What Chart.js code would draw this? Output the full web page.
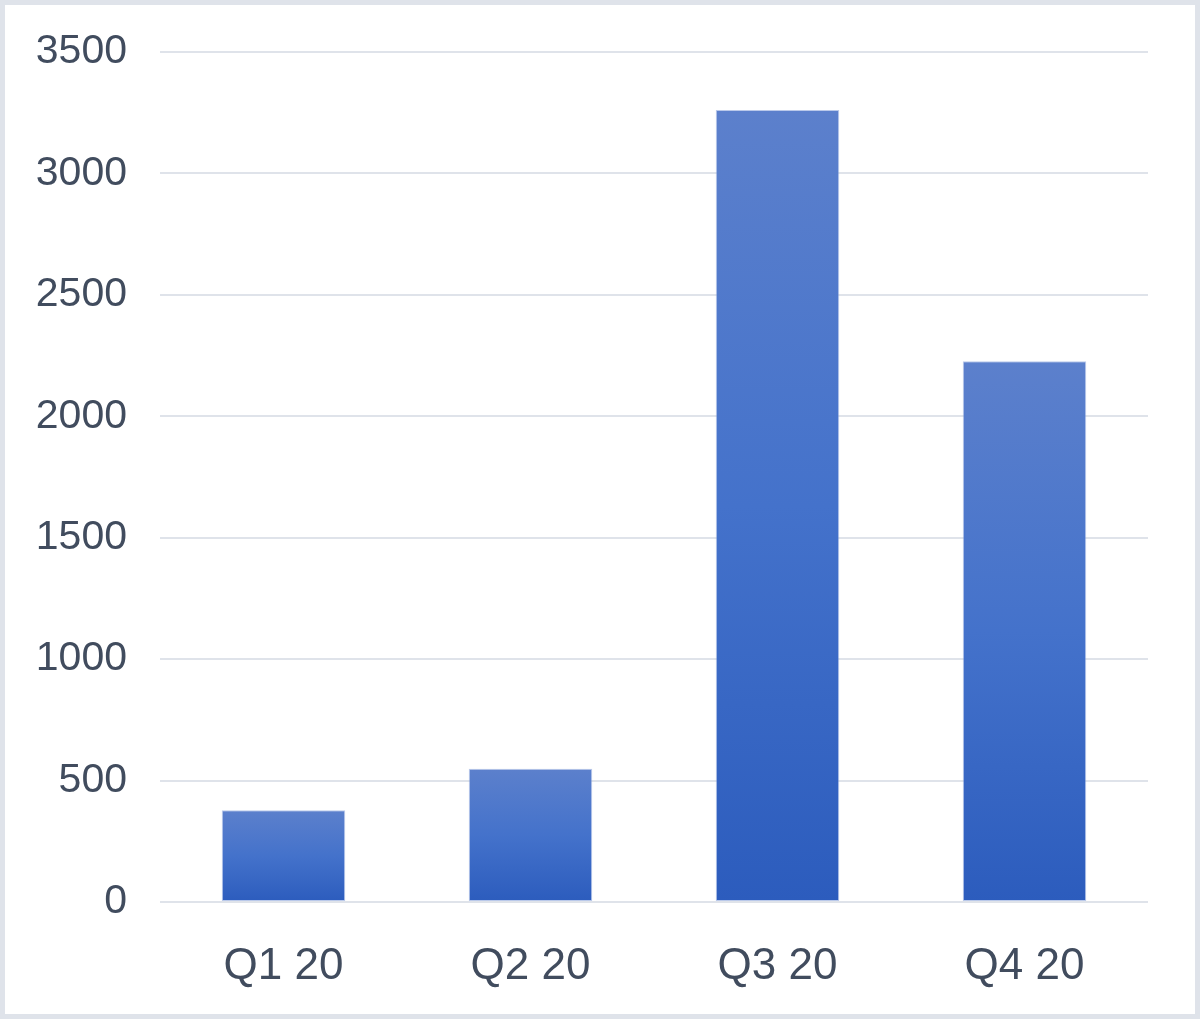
<!DOCTYPE html>
<html>
<head>
<meta charset="utf-8">
<script src="https://cdn.jsdelivr.net/npm/chart.js@4"></script>
<style>
  html, body { margin: 0; padding: 0; background: #fff; }
  canvas { display: block; }
</style>
</head>
<body>
<canvas id="barChart" width="1200" height="1019"></canvas>
<script>
const quarters = ['Q1 20', 'Q2 20', 'Q3 20', 'Q4 20'];
const amounts = [378, 549, 3261, 2227];
const yTicks = [0, 500, 1000, 1500, 2000, 2500, 3000, 3500];

const frame = {
    id: 'frame',
    beforeDraw(chart) {
        const ctx = chart.ctx;
        ctx.save();
        ctx.fillStyle = '#fff';
        ctx.fillRect(0, 0, chart.width, chart.height);
        ctx.strokeStyle = '#dfe3ea';
        ctx.lineWidth = 5;
        ctx.strokeRect(2.5, 2.5, chart.width - 5, chart.height - 5);
        ctx.restore();
    }
};

// each bar gets its own lighter-top gradient
function barFill(context) {
    const chart = context.chart;
    const y = chart.scales.y;
    if (!y || !chart.chartArea) return '#3f6cc6';
    const top = y.getPixelForValue(context.raw);
    const bottom = y.getPixelForValue(0);
    const g = chart.ctx.createLinearGradient(0, top, 0, bottom);
    g.addColorStop(0, '#5c80cc');
    g.addColorStop(0.5, '#4472cb');
    g.addColorStop(1, '#2c5cbd');
    return g;
}

new Chart(document.getElementById('barChart'), {
    type: 'bar',
    data: {
        labels: quarters,
        datasets: [{
            data: amounts,
            backgroundColor: barFill,
            borderColor: 'rgba(140,165,220,0.6)',
            borderWidth: 1,
            borderSkipped: false,
            barPercentage: 0.5,
            categoryPercentage: 1
        }]
    },
    options: {
        responsive: false,
        animation: false,
        layout: {
            padding: { top: 52, right: 52, bottom: 0, left: 0 }
        },
        plugins: {
            legend: { display: false },
            tooltip: { enabled: false }
        },
        scales: {
            x: {
                grid: { display: false },
                border: { display: false },
                ticks: {
                    color: '#414c5e',
                    padding: 30,
                    font: { family: 'Liberation Sans, Arial', size: 44 }
                },
                afterFit(scale) {
                    scale.height = 117;
                    scale.paddingLeft = 0;
                    scale.paddingRight = 0;
                }
            },
            y: {
                min: 0,
                max: 3500,
                afterBuildTicks(scale) {
                    scale.ticks = yTicks.map(v => ({ value: v }));
                },
                grid: {
                    color: '#dfe3ea',
                    lineWidth: 2,
                    drawTicks: false
                },
                border: { display: false },
                ticks: {
                    color: '#414c5e',
                    padding: 33,
                    callback: v => String(v),
                    font: { family: 'Liberation Sans, Arial', size: 41 }
                },
                afterFit(scale) {
                    scale.width = 160;
                    scale.paddingTop = 0;
                    scale.paddingBottom = 0;
                }
            }
        }
    },
    plugins: [frame]
});
</script>
</body>
</html>
